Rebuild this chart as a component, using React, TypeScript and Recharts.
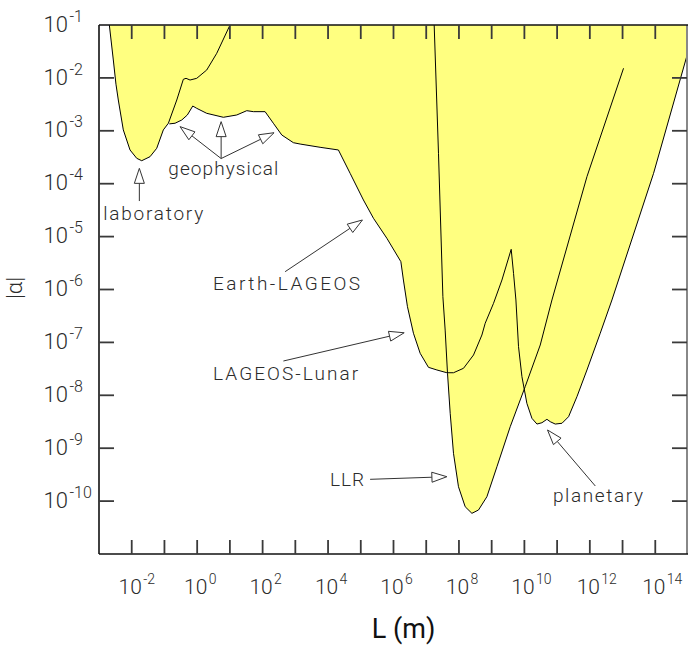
import React from 'react';
import { ComposedChart, Area, Line, Scatter, XAxis, YAxis, ReferenceLine, ReferenceDot } from 'recharts';

type Pt = { L: number; a: number };

// |alpha| bounds versus length scale L (m)
const laboratory: Pt[] = [
  { L: 2.07e-3, a: 1.0e-1 },
  { L: 2.74e-3, a: 2.18e-2 },
  { L: 3.3e-3, a: 7.6e-3 },
  { L: 3.89e-3, a: 3.82e-3 },
  { L: 5.53e-3, a: 1.04e-3 },
  { L: 8.87e-3, a: 4.34e-4 },
  { L: 1.42e-2, a: 3.02e-4 },
  { L: 2.02e-2, a: 2.72e-4 },
  { L: 3.62e-2, a: 3.24e-4 },
  { L: 5.81e-2, a: 4.67e-4 },
  { L: 9.25e-2, a: 1.04e-3 },
  { L: 1.32e-1, a: 1.39e-3 },
  { L: 2.38e-1, a: 3.82e-3 },
  { L: 3.78e-1, a: 9.41e-3 },
  { L: 4.57e-1, a: 9.82e-3 },
  { L: 6.05e-1, a: 9.12e-3 },
  { L: 9.7e-1, a: 9.82e-3 },
  { L: 1.96, a: 1.41e-2 },
  { L: 3.97, a: 2.92e-2 },
  { L: 10.1, a: 1.0e-1 },
];

const geophysical: Pt[] = [
  { L: 0.141, a: 1.35e-3 },
  { L: 0.211, a: 1.39e-3 },
  { L: 0.338, a: 1.6e-3 },
  { L: 0.501, a: 1.99e-3 },
  { L: 0.733, a: 2.94e-3 },
  { L: 0.97, a: 2.66e-3 },
  { L: 1.96, a: 2.14e-3 },
  { L: 6.32, a: 1.8e-3 },
  { L: 16.2, a: 1.99e-3 },
  { L: 32.8, a: 2.4e-3 },
  { L: 52.2, a: 2.3e-3 },
  { L: 119, a: 2.3e-3 },
  { L: 213, a: 1.39e-3 },
  { L: 385, a: 8.33e-4 },
  { L: 873, a: 5.96e-4 },
  { L: 1400, a: 5.62e-4 },
  { L: 5710, a: 4.88e-4 },
  { L: 2.07e4, a: 4.34e-4 },
];

const earthLageos: Pt[] = [
  { L: 2.07e4, a: 4.34e-4 },
  { L: 4.73e4, a: 1.57e-4 },
  { L: 1.205e5, a: 4.92e-5 },
  { L: 2.44e5, a: 2.22e-5 },
  { L: 6.27e5, a: 9.29e-6 },
  { L: 1.68e6, a: 3.36e-6 },
];

const lageosLunar: Pt[] = [
  { L: 1.68e6, a: 3.36e-6 },
  { L: 2.01e6, a: 1.51e-6 },
  { L: 2.67e6, a: 4.73e-7 },
  { L: 4.07e6, a: 1.49e-7 },
  { L: 6.53e6, a: 6.22e-8 },
  { L: 1.17e7, a: 3.38e-8 },
  { L: 2.12e7, a: 3.01e-8 },
  { L: 4.28e7, a: 2.67e-8 },
  { L: 6.81e7, a: 2.67e-8 },
  { L: 1.38e8, a: 3.24e-8 },
  { L: 2.79e8, a: 5.78e-8 },
  { L: 5.03e8, a: 1.38e-7 },
  { L: 6.34e8, a: 2.3e-7 },
  { L: 1.14e9, a: 5.48e-7 },
  { L: 2.06e9, a: 1.51e-6 },
  { L: 3.95e9, a: 5.75e-6 },
];

const planetary: Pt[] = [
  { L: 3.95e9, a: 5.75e-6 },
  { L: 4.66e9, a: 2.02e-6 },
  { L: 5.51e9, a: 6.34e-7 },
  { L: 6.62e9, a: 8.3e-8 },
  { L: 8.41e9, a: 2.25e-8 },
  { L: 1.19e10, a: 7.06e-9 },
  { L: 1.7e10, a: 3.67e-9 },
  { L: 2.42e10, a: 2.86e-9 },
  { L: 3.44e10, a: 3.03e-9 },
  { L: 4.89e10, a: 3.52e-9 },
  { L: 6.17e10, a: 3.17e-9 },
  { L: 8.77e10, a: 2.86e-9 },
  { L: 1.41e11, a: 2.96e-9 },
  { L: 2.24e11, a: 3.94e-9 },
  { L: 4.04e11, a: 9.42e-9 },
  { L: 8.17e11, a: 3.01e-8 },
  { L: 2.08e12, a: 1.49e-7 },
  { L: 4.74e12, a: 6.34e-7 },
  { L: 8.87e13, a: 1.57e-4 },
  { L: 1.0e15, a: 3.09e-2 },
];

const llr: Pt[] = [
  { L: 1.75e7, a: 1.0e-1 },
  { L: 2.37e7, a: 3.76e-4 },
  { L: 3.23e7, a: 7.31e-7 },
  { L: 3.79e7, a: 1.71e-7 },
  { L: 4.47e7, a: 2.61e-8 },
  { L: 5.4e7, a: 4.57e-9 },
  { L: 6.81e7, a: 8.01e-10 },
  { L: 9.68e7, a: 1.87e-10 },
  { L: 1.55e8, a: 7.83e-11 },
  { L: 2.49e8, a: 5.87e-11 },
  { L: 3.96e8, a: 6.79e-11 },
  { L: 7.15e8, a: 1.21e-10 },
  { L: 1.45e9, a: 4.47e-10 },
  { L: 3.69e9, a: 2.55e-9 },
  { L: 1.06e10, a: 1.46e-8 },
  { L: 3.05e10, a: 8.93e-8 },
  { L: 6.95e10, a: 6.34e-7 },
  { L: 8.17e11, a: 1.36e-4 },
  { L: 1.07e13, a: 1.52e-2 },
];

// axes and ticks
const xDomain = [1e-3, 1e15];
const yDomain = [1e-11, 1e-1];
const xTicks = [1e-2, 1e-1, 1, 1e1, 1e2, 1e3, 1e4, 1e5, 1e6, 1e7, 1e8, 1e9, 1e10, 1e11, 1e12, 1e13, 1e14];
const xLabelTicks = [1e-2, 1, 1e2, 1e4, 1e6, 1e8, 1e10, 1e12, 1e14];
const yTicks = [1e-10, 1e-9, 1e-8, 1e-7, 1e-6, 1e-5, 1e-4, 1e-3, 1e-2, 1e-1];

// annotations (data coordinates L, |alpha|)
const annotationTexts = [
  { text: 'laboratory', L: 1.35e-3, a: 2.06e-5, width: 100 },
  { text: 'geophysical', L: 0.1315, a: 1.46e-4, width: 110 },
  { text: 'Earth-LAGEOS', L: 3.06, a: 9.8e-7, width: 147 },
  { text: 'LAGEOS-Lunar', L: 3.06, a: 1.95e-8, width: 145 },
  { text: 'LLR', L: 1.156e4, a: 1.93e-10, width: 34 },
  { text: 'planetary', L: 7.45e10, a: 9.6e-11, width: 90 },
];

const annotationArrows = [
  { from: { L: 1.71e-2, a: 4.7e-5 }, to: { L: 1.71e-2, a: 1.95e-4 } },
  { from: { L: 5.4, a: 2.99e-4 }, to: { L: 0.3, a: 1.2e-3 } },
  { from: { L: 5.4, a: 2.99e-4 }, to: { L: 5.4, a: 1.49e-3 } },
  { from: { L: 5.4, a: 2.99e-4 }, to: { L: 224, a: 9.2e-4 } },
  { from: { L: 487, a: 2.17e-6 }, to: { L: 1.125e5, a: 2.06e-5 } },
  { from: { L: 432, a: 4.45e-8 }, to: { L: 2.12e6, a: 1.52e-7 } },
  { from: { L: 1.93e5, a: 2.58e-10 }, to: { L: 4.28e7, a: 2.89e-10 } },
  { from: { L: 1.47e12, a: 1.93e-10 }, to: { L: 5.09e10, a: 2.21e-9 } },
];

// tables built from the arrays above
const mainBoundary: Pt[] = [
  ...geophysical,
  ...earthLageos.slice(1),
  ...lageosLunar.slice(1),
  ...planetary.slice(1),
];
const bottomTickPts: Pt[] = xTicks.map((t) => ({ L: t, a: yDomain[0] }));
const rightEdge: Pt[] = [
  { L: xDomain[1], a: yDomain[0] },
  { L: xDomain[1], a: yDomain[1] },
];

// chart layout
const W = 692;
const H = 649;
const MARGIN = { top: 25, right: 4, bottom: 0, left: 0 };
const Y_AXIS_W = 99;
const X_AXIS_H = 95;
const PLOT = {
  left: MARGIN.left + Y_AXIS_W,
  right: W - MARGIN.right,
  top: MARGIN.top,
  bottom: H - MARGIN.bottom - X_AXIS_H,
};

const FONT = "Roboto, 'DejaVu Sans', Arial, sans-serif";
const INK = '#2b2b2b';
const TICK = '#3a3a3a';
const FILL = '#ffff80';

const expOf = (v: number) => Math.round(Math.log10(v));
const isLabeled = (v: number) => xLabelTicks.some((t) => Math.abs(Math.log10(t) - Math.log10(v)) < 1e-6);

// same log mapping as the chart axes (used only for the frame overlay)
const lx0 = Math.log10(xDomain[0]);
const lx1 = Math.log10(xDomain[1]);
const ly0 = Math.log10(yDomain[0]);
const ly1 = Math.log10(yDomain[1]);
const px = (v: number) => PLOT.left + ((Math.log10(v) - lx0) / (lx1 - lx0)) * (PLOT.right - PLOT.left);
const py = (v: number) => PLOT.bottom - ((Math.log10(v) - ly0) / (ly1 - ly0)) * (PLOT.bottom - PLOT.top);

const BottomTick = (props: any) => {
  const { x, y, payload } = props;
  const v = payload.value;
  if (!isLabeled(v)) return <g />;
  return (
    <g fontFamily={FONT} fontWeight={300} fill={INK}>
      <text x={x - 1.5} y={y + 40} textAnchor="middle" fontSize={21}>10</text>
      <text x={x + 11.5} y={y + 30} textAnchor="start" fontSize={14}>{String(expOf(v))}</text>
    </g>
  );
};

const LeftTick = (props: any) => {
  const { x, y, payload } = props;
  const v = payload.value;
  return (
    <g fontFamily={FONT} fontWeight={300} fill={INK}>
      <text x={x - 31} y={y + 6.6} textAnchor="end" fontSize={22}>10</text>
      <text x={x - 29.5} y={y - 3.4} textAnchor="start" fontSize={16}>{String(expOf(v))}</text>
    </g>
  );
};

const stub = (dx: number, dy: number) => (p: any) => {
  const { cx, cy } = p;
  return (
    <g>
      <line x1={cx} y1={cy} x2={cx + dx} y2={cy + dy} stroke={TICK} strokeWidth={1.8} />
    </g>
  );
};

const ArrowShape = (p: any) => {
  const { x1, y1, x2, y2 } = p;
  if ([x1, y1, x2, y2].some((n) => typeof n !== 'number' || isNaN(n))) return <g />;
  const dx = x2 - x1;
  const dy = y2 - y1;
  const len = Math.hypot(dx, dy) || 1;
  const ux = dx / len;
  const uy = dy / len;
  const bx = x2 - ux * 15;
  const by = y2 - uy * 15;
  const nx = -uy * 5;
  const ny = ux * 5;
  return (
    <g>
      <line x1={x1} y1={y1} x2={bx} y2={by} stroke="#333" strokeWidth={1} />
      <polygon
        points={`${x2},${y2} ${bx + nx},${by + ny} ${bx - nx},${by - ny}`}
        fill="#fff"
        stroke="#333"
        strokeWidth={1}
      />
    </g>
  );
};

const makeTextShape = (text: string, width: number) => (p: any) => (
  <text
    x={p.cx}
    y={p.cy}
    fontFamily={FONT}
    fontWeight={300}
    fontSize={19}
    fill={INK}
    textLength={width}
    lengthAdjust="spacing"
  >
    {text}
  </text>
);

// top frame line and inward ticks on top, left and right, above the filled regions
const FrameOverlay = () => (
  <svg
    width={W}
    height={H}
    style={{ position: 'absolute', left: 0, top: 0, pointerEvents: 'none' }}
  >
    <line x1={PLOT.left} y1={PLOT.top} x2={PLOT.right} y2={PLOT.top} stroke="#111" strokeWidth={1.4} />
    {xTicks.map((t) => (
      <line key={`top-${t}`} x1={px(t)} y1={PLOT.top} x2={px(t)} y2={PLOT.top + 14} stroke={TICK} strokeWidth={1.8} />
    ))}
    {yTicks.slice(0, -1).map((t) => (
      <g key={`y-${t}`}>
        <line x1={PLOT.left} y1={py(t)} x2={PLOT.left + 15} y2={py(t)} stroke={TICK} strokeWidth={1.8} />
        <line x1={PLOT.right - 1} y1={py(t)} x2={PLOT.right - 16} y2={py(t)} stroke={TICK} strokeWidth={1.8} />
      </g>
    ))}
  </svg>
);

export default function App() {
  return (
    <div style={{ position: 'absolute', left: 0, top: 0, width: W, height: H, background: '#fff' }}>
      <ComposedChart width={W} height={H} margin={MARGIN}>
        <XAxis
          dataKey="L"
          type="number"
          scale="log"
          domain={xDomain}
          allowDataOverflow
          ticks={xTicks}
          interval={0}
          tickSize={0}
          tickMargin={0}
          height={X_AXIS_H}
          tickLine={false}
          tick={<BottomTick />}
          axisLine={{ stroke: '#111', strokeWidth: 1.6 }}
          label={{
            content: (p: any) => {
              const vb = p.viewBox || {};
              return (
                <text
                  x={vb.x + vb.width / 2 + 10}
                  y={vb.y + 84}
                  textAnchor="middle"
                  fontFamily={FONT}
                  fontSize={27}
                  fill="#111"
                >
                  L (m)
                </text>
              );
            },
          }}
        />
        <YAxis
          dataKey="a"
          type="number"
          scale="log"
          domain={yDomain}
          allowDataOverflow
          ticks={yTicks}
          interval={0}
          tickSize={0}
          tickMargin={0}
          width={Y_AXIS_W}
          tickLine={false}
          tick={<LeftTick />}
          axisLine={{ stroke: '#111', strokeWidth: 1.6 }}
          label={{
            content: (p: any) => {
              const vb = p.viewBox || {};
              const cx = 22;
              const cy = vb.y + vb.height / 2 - 1.5;
              return (
                <text
                  x={cx}
                  y={cy}
                  transform={`rotate(-90, ${cx}, ${cy})`}
                  textAnchor="middle"
                  fontFamily={FONT}
                  fontSize={22}
                  fontWeight={300}
                  fill={INK}
                >
                  |α|
                </text>
              );
            },
          }}
        />

        <Area data={laboratory} dataKey="a" type="linear" baseValue="dataMax" fill={FILL} fillOpacity={1} stroke="none" isAnimationActive={false} />
        <Area data={mainBoundary} dataKey="a" type="linear" baseValue="dataMax" fill={FILL} fillOpacity={1} stroke="none" isAnimationActive={false} />
        <Area data={llr} dataKey="a" type="linear" baseValue="dataMax" fill={FILL} fillOpacity={1} stroke="none" isAnimationActive={false} />

        <Line data={laboratory} dataKey="a" stroke="#000" strokeWidth={1} dot={false} isAnimationActive={false} />
        <Line data={geophysical} dataKey="a" stroke="#000" strokeWidth={1} dot={false} isAnimationActive={false} />
        <Line data={earthLageos} dataKey="a" stroke="#000" strokeWidth={1} dot={false} isAnimationActive={false} />
        <Line data={lageosLunar} dataKey="a" stroke="#000" strokeWidth={1} dot={false} isAnimationActive={false} />
        <Line data={planetary} dataKey="a" stroke="#000" strokeWidth={1} dot={false} isAnimationActive={false} />
        <Line data={llr} dataKey="a" stroke="#000" strokeWidth={1} dot={false} isAnimationActive={false} />

        {/* right frame (grey); half of the stroke lies outside the plot clip */}
        <Line data={rightEdge} dataKey="a" stroke="#888" strokeWidth={4} dot={false} isAnimationActive={false} />

        {/* inward tick marks along the bottom axis */}
        <Scatter data={bottomTickPts} dataKey="a" shape={stub(0, -14)} isAnimationActive={false} />

        {annotationArrows.map((ar, i) => (
          <ReferenceLine
            key={`arrow-${i}`}
            segment={[
              { x: ar.from.L, y: ar.from.a },
              { x: ar.to.L, y: ar.to.a },
            ]}
            ifOverflow="visible"
            shape={ArrowShape}
          />
        ))}
        {annotationTexts.map((t, i) => (
          <ReferenceDot
            key={`txt-${i}`}
            x={t.L}
            y={t.a}
            r={0}
            ifOverflow="visible"
            shape={makeTextShape(t.text, t.width)}
          />
        ))}
      </ComposedChart>
      <FrameOverlay />
    </div>
  );
}
